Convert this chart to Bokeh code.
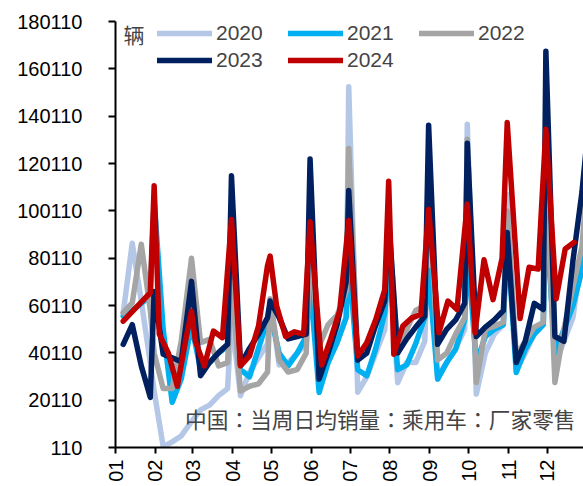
import pandas as pd
from math import pi

from bokeh.plotting import figure
from bokeh.models import Range1d, FixedTicker, Legend, LegendItem, Label
from bokeh.embed import file_html
from bokeh.resources import INLINE

# Week-ending dates used for 2020-2023 (7th, 14th, 21st, 28th and month end)
week_ends = [
    "01-07", "01-14", "01-21", "01-28", "01-31",
    "02-07", "02-14", "02-21", "02-29",
    "03-07", "03-14", "03-21", "03-28", "03-31",
    "04-07", "04-14", "04-21", "04-28", "04-30",
    "05-07", "05-14", "05-21", "05-28", "05-31",
    "06-07", "06-14", "06-21", "06-28", "06-30",
    "07-07", "07-14", "07-21", "07-28", "07-31",
    "08-07", "08-14", "08-21", "08-28", "08-31",
    "09-07", "09-14", "09-21", "09-28", "09-30",
    "10-07", "10-14", "10-21", "10-28", "10-31",
    "11-07", "11-14", "11-21", "11-28", "11-30",
    "12-07", "12-14", "12-21", "12-28", "12-31",
]

# 2024 weeks close on Sundays and at month end
week_ends_2024 = [
    "01-07", "01-14", "01-21", "01-28", "01-31",
    "02-04", "02-11", "02-18", "02-25", "02-29",
    "03-03", "03-10", "03-17", "03-24", "03-31",
    "04-07", "04-14", "04-21", "04-28", "04-30",
    "05-05", "05-12", "05-19", "05-26", "05-31",
    "06-09", "06-16", "06-23", "06-30",
    "07-07", "07-14", "07-21", "07-28", "07-31",
    "08-04", "08-11", "08-18", "08-25", "08-31",
    "09-08", "09-15", "09-22", "09-30",
    "10-06", "10-13", "10-20", "10-27", "10-31",
    "11-10", "11-17", "11-24", "11-30",
    "12-08", "12-15", "12-22",
]

# Daily average passenger-car retail sales of the week (vehicles)
sales_2020 = [
    57000, 86400, 62000, 36000, 24000,
    500, 2500, 5000, 11000,
    16000, 18000, 22000, 25000, 55000,
    22000, 32000, 38000, 44000, 62000,
    35000, 36000, 40000, 44000, 80000,
    32000, 40000, 45000, 55000, 152500,
    23500, 30000, 40000, 50000, 85000,
    27500, 36000, 36000, 45000, 90000,
    30000, 36000, 42000, 50000, 136700,
    22700, 40000, 48000, 52000, 107000,
    33000, 40000, 48000, 52000, 110000,
    35000, 45000, 55000, 82000, 100000,
]
sales_2021 = [
    55600, 58000, 61000, 64000, 105000,
    50000, 19200, 29000, 52000,
    33000, 36000, 40000, 43000, 80000,
    33000, 30000, 42000, 54000, 57000,
    40000, 34600, 40000, 47000, 70000,
    23400, 36000, 44400, 55000, 80000,
    33000, 30400, 42000, 57000, 80000,
    33000, 35000, 44000, 55000, 75000,
    29000, 36000, 41600, 54000, 85000,
    36000, 47000, 50000, 52000, 90000,
    31800, 41600, 48000, 52000, 100000,
    40000, 50000, 60000, 75000, 95000,
]
sales_2022 = [
    57000, 61200, 86000, 58000, 40000,
    25000, 25000, 45000, 80100,
    44400, 45800, 34600, 36000, 70000,
    24000, 26000, 27000, 32000, 63000,
    37000, 32000, 33000, 40000, 85000,
    43000, 52000, 56000, 66000, 126500,
    38000, 44000, 52000, 62000, 95000,
    40000, 50000, 58000, 60000, 115000,
    37000, 40000, 48000, 55000, 130400,
    27600, 50000, 51400, 53000, 100000,
    39000, 45000, 51000, 53000, 120000,
    27600, 50000, 68000, 85000, 105000,
]
sales_2023 = [
    43700, 52000, 34600, 21300, 66000,
    39500, 38000, 36300, 70300,
    30400, 36000, 40200, 43700, 114900,
    35000, 42000, 48000, 55000, 62000,
    55000, 46000, 47000, 48000, 122000,
    29000, 40000, 52000, 70000, 108700,
    37000, 40000, 52000, 62000, 97000,
    40000, 46000, 51000, 55600, 136300,
    43700, 50000, 54000, 61000, 128700,
    47000, 51000, 54000, 58000, 91000,
    36000, 45000, 61000, 58400, 167500,
    47000, 45000, 79000, 108000, 125000,
]
sales_2024 = [
    53500, 57500, 61500, 65500, 110700,
    48000, 40000, 26000, 47000, 57700,
    45000, 34600, 49300, 46500, 96500,
    34600, 38800, 51400, 77000, 81000,
    60000, 47000, 49000, 48000, 95500,
    35000, 46000, 58000, 96000,
    38800, 44400, 54200, 66800, 112600,
    39500, 51400, 54900, 56300, 100800,
    48600, 62000, 58400, 103000,
    48600, 79400, 62600, 80000, 137400,
    54600, 76300, 75500, 134600,
    63000, 84000, 86800,
]

years = ["2020", "2021", "2022", "2023", "2024"]
series = [sales_2020, sales_2021, sales_2022, sales_2023, sales_2024]
series_dates = [week_ends, week_ends, week_ends, week_ends, week_ends_2024]
colors = ["#B4C7E7", "#00B0F0", "#A5A5A5", "#002060", "#C00000"]

month_labels = ["01", "02", "03", "04", "05", "06", "07", "08", "09", "10", "11", "12"]
y_ticks = [110, 20110, 40110, 60110, 80110, 100110, 120110, 140110, 160110, 180110]

# Every year is laid on one common calendar, counted in days from 1 January
origin = pd.Timestamp("2024-01-01")


def to_days(dates):
    return [(pd.Timestamp("2024-" + d) - origin).days for d in dates]


month_days = to_days([m + "-01" for m in month_labels])

p = figure(
    width=583, height=486,
    output_backend="svg", toolbar_location=None,
    x_range=Range1d(0, 363.2), y_range=Range1d(y_ticks[0], y_ticks[-1]),
    min_border_left=115, min_border_right=0, min_border_top=21, min_border_bottom=39,
)
p.outline_line_color = None
p.xgrid.visible = False
p.ygrid.visible = False
p.background_fill_color = "white"
p.border_fill_color = "white"

tick_font = "Liberation Sans"

p.yaxis.ticker = FixedTicker(ticks=y_ticks)
p.yaxis.major_label_overrides = {t: str(t) for t in y_ticks}
p.xaxis.ticker = FixedTicker(ticks=month_days)
p.xaxis.major_label_overrides = {d: m for d, m in zip(month_days, month_labels)}
p.xaxis.major_label_orientation = pi / 2

for ax in (p.xaxis, p.yaxis):
    ax.axis_line_color = "black"
    ax.axis_line_width = 2
    ax.major_tick_line_color = "black"
    ax.major_tick_line_width = 2
    ax.major_tick_in = 0
    ax.minor_tick_line_color = None
    ax.major_label_text_font = tick_font
    ax.major_label_text_font_size = "20px"
    ax.major_label_text_color = "black"

p.yaxis.major_tick_out = 7
p.yaxis.major_label_standoff = 26
p.xaxis.major_tick_out = 6
p.xaxis.major_label_standoff = 6

items = []
for year, vals, dates, col in zip(years, series, series_dates, colors):
    r = p.line(to_days(dates)[:len(vals)], vals, line_width=5.5, line_color=col,
               line_join="round", line_cap="round")
    items.append(LegendItem(label=year, renderers=[r]))

legend = Legend(
    items=items, orientation="horizontal", ncols=3,
    location=(42, 375),
    glyph_width=55, glyph_height=20, label_standoff=4, label_width=69,
    spacing=3, padding=0, margin=0,
    label_text_font=tick_font, label_text_font_size="21px",
    border_line_alpha=0, background_fill_alpha=0,
)
p.add_layout(legend)

p.add_layout(Label(
    x=8, y=413.5, x_units="screen", y_units="screen", text="辆",
    text_font="Noto Sans CJK SC", text_font_size="21px",
    text_baseline="middle", text_align="left",
))
p.add_layout(Label(
    x=460, y=28.7, x_units="screen", y_units="screen",
    text="中国：当周日均销量：乘用车：厂家零售",
    text_font="Noto Sans CJK TC", text_font_size="21.7px",
    text_baseline="middle", text_align="right",
))

open("out.html", "w").write(file_html(p, INLINE))
